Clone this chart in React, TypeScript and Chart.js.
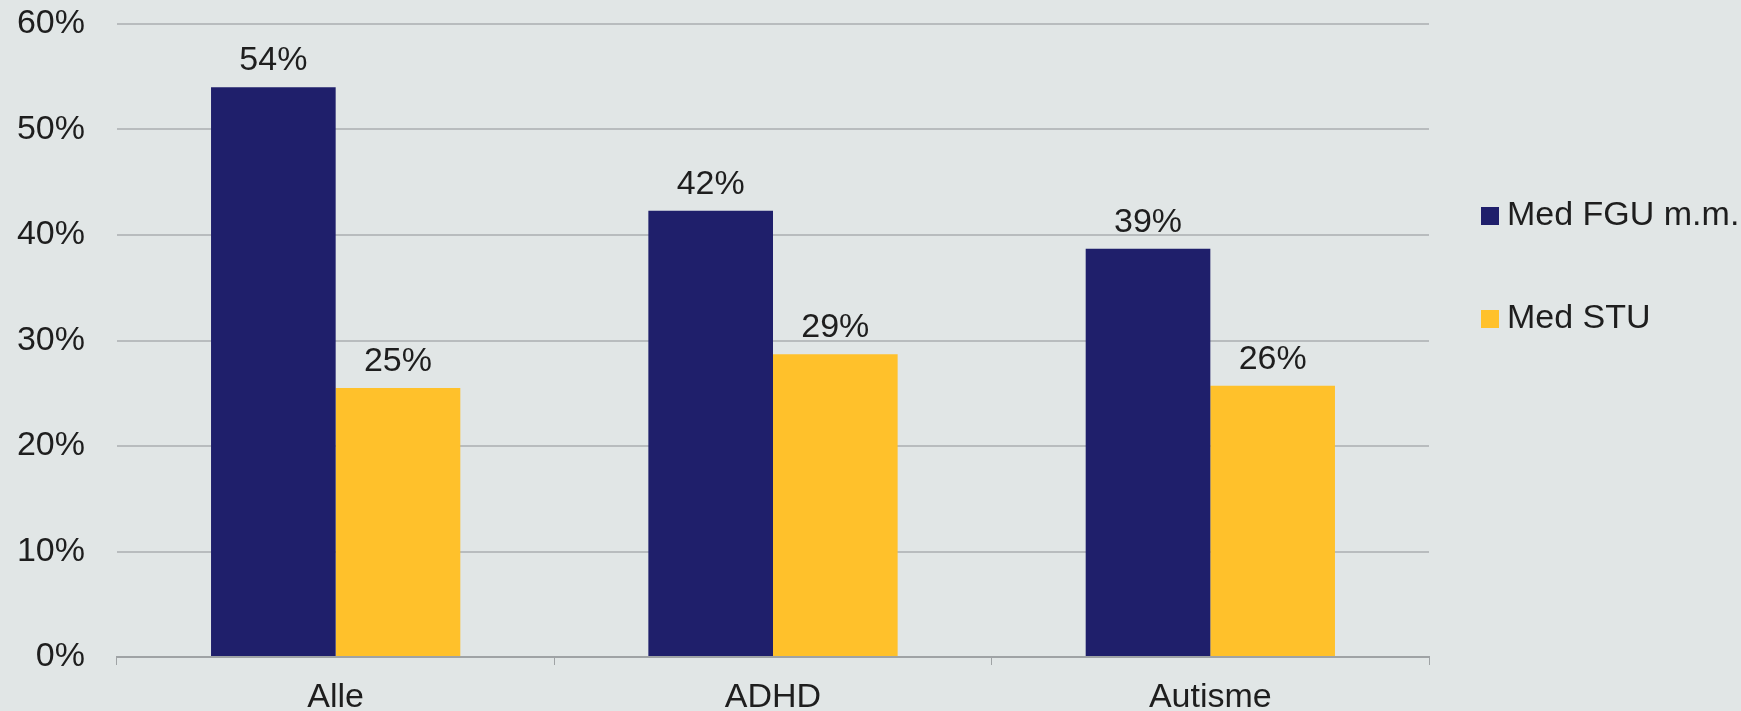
import React, { useEffect, useRef } from "react";
import { Chart, registerables } from "chart.js";

Chart.register(...registerables);

const categories = ["Alle", "ADHD", "Autisme"];
const seriesNames = ["Med FGU m.m.", "Med STU"];
const fguValues = [54.0, 42.3, 38.7];
const stuValues = [25.5, 28.7, 25.7];
const fguLabels = ["54%", "42%", "39%"];
const stuLabels = ["25%", "29%", "26%"];
const yTicks = [0, 10, 20, 30, 40, 50, 60];

const BLUE = "#1f1f6b";
const YELLOW = "#ffc12b";
const BG = "#e1e6e6";
const TEXT = "#1e1e1e";
const FONT = "'Liberation Sans', Arial, sans-serif";
const FS = 34;

const valueLabelPlugin = {
  id: "valueLabels",
  afterDatasetsDraw(chart: any) {
    const ctx = chart.ctx;
    const labelSets = [fguLabels, stuLabels];
    ctx.save();
    ctx.font = `${FS}px ${FONT}`;
    ctx.fillStyle = TEXT;
    ctx.textAlign = "center";
    ctx.textBaseline = "alphabetic";
    chart.data.datasets.forEach((ds: any, di: number) => {
      const meta = chart.getDatasetMeta(di);
      meta.data.forEach((bar: any, i: number) => {
        ctx.fillText(labelSets[di][i], bar.x, bar.y - 17);
      });
    });
    ctx.restore();
  },
};

const legendPlugin = {
  id: "customLegend",
  afterDraw(chart: any) {
    const ctx = chart.ctx;
    const rows = [215, 318];
    ctx.save();
    ctx.font = `${FS}px ${FONT}`;
    ctx.textBaseline = "middle";
    ctx.textAlign = "left";
    chart.data.datasets.forEach((ds: any, i: number) => {
      const cy = rows[i];
      ctx.fillStyle = ds.backgroundColor;
      ctx.fillRect(1481, cy - 8, 18, 18);
      ctx.fillStyle = TEXT;
      ctx.fillText(ds.label, 1507, cy + 1);
    });
    ctx.restore();
  },
};

const bgPlugin = {
  id: "bg",
  beforeDraw(chart: any) {
    const ctx = chart.ctx;
    ctx.save();
    ctx.fillStyle = BG;
    ctx.fillRect(0, 0, chart.width, chart.height);
    ctx.restore();
  },
};

export default function App() {
  const canvasRef = useRef<HTMLCanvasElement | null>(null);

  useEffect(() => {
    if (!canvasRef.current) return;
    const chart = new Chart(canvasRef.current, {
      type: "bar",
      data: {
        labels: categories,
        datasets: [
          {
            label: seriesNames[0],
            data: fguValues,
            backgroundColor: BLUE,
            categoryPercentage: 0.57,
            barPercentage: 1.0,
          },
          {
            label: seriesNames[1],
            data: stuValues,
            backgroundColor: YELLOW,
            categoryPercentage: 0.57,
            barPercentage: 1.0,
          },
        ],
      },
      options: {
        animation: false,
        responsive: true,
        maintainAspectRatio: false,
        layout: { padding: { top: 24, right: 312, left: 0, bottom: 0 } },
        plugins: {
          legend: { display: false },
          tooltip: { enabled: false },
        },
        scales: {
          x: {
            grid: {
              display: true,
              drawOnChartArea: false,
              drawTicks: true,
              tickLength: 8,
              color: "#9fa3a5",
              offset: true,
            },
            border: { display: true, color: "#9fa3a5", width: 2 },
            ticks: {
              color: TEXT,
              font: { family: FONT, size: FS },
              padding: 12,
            },
            afterFit: (scale: any) => {
              scale.height = 54;
              scale.paddingLeft = 0;
              scale.paddingRight = 0;
            },
          },
          y: {
            min: 0,
            max: 60,
            afterBuildTicks: (scale: any) => {
              scale.ticks = yTicks.map((v) => ({ value: v }));
            },
            grid: {
              color: "#b8bcbe",
              lineWidth: 2,
              drawTicks: false,
            },
            border: { display: false },
            ticks: {
              color: TEXT,
              font: { family: FONT, size: FS },
              padding: 32,
              callback: (v: any) => `${v}%`,
            },
            afterFit: (scale: any) => {
              scale.width = 117;
              scale.paddingTop = 0;
              scale.paddingBottom = 0;
            },
          },
        },
      },
      plugins: [bgPlugin, valueLabelPlugin, legendPlugin],
    });
    return () => chart.destroy();
  }, []);

  return (
    <div
      style={{
        position: "absolute",
        left: 0,
        top: 0,
        width: 1741,
        height: 711,
        background: BG,
      }}
    >
      <canvas ref={canvasRef} />
    </div>
  );
}
